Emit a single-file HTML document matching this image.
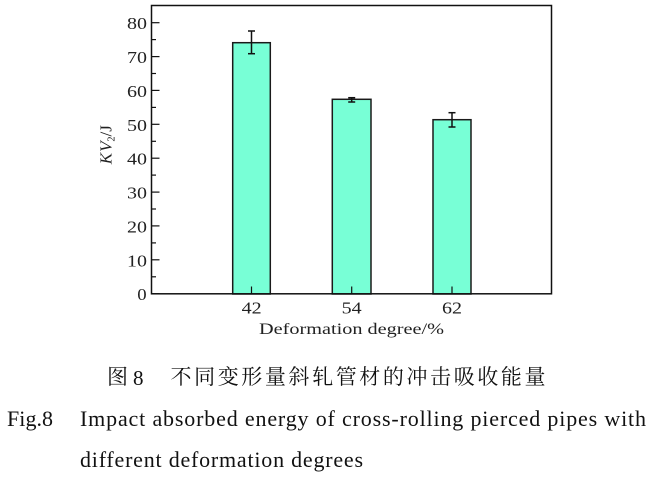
<!DOCTYPE html>
<html><head><meta charset="utf-8"><style>
html,body{margin:0;padding:0;background:#fff;}
svg{display:block;}
</style></head><body>
<svg width="654" height="477" viewBox="0 0 654 477" xmlns="http://www.w3.org/2000/svg">
<rect width="654" height="477" fill="#fff"/>
<!-- bars -->
<g fill="#78FFD6" stroke="#1a1a1a" stroke-width="1.5">
<rect x="232.7" y="42.7" width="37.6" height="251.3"/>
<rect x="332.3" y="99.3" width="38.7" height="194.7"/>
<rect x="433" y="119.7" width="38" height="174.3"/>
</g>
<!-- error bars -->
<g stroke="#111" stroke-width="1.5" fill="none">
<line x1="251.5" y1="31" x2="251.5" y2="53.7"/>
<line x1="248" y1="31" x2="255" y2="31"/>
<line x1="248" y1="53.7" x2="255" y2="53.7"/>
<line x1="351.7" y1="97.7" x2="351.7" y2="102"/>
<line x1="348.2" y1="97.7" x2="355.2" y2="97.7"/>
<line x1="348.2" y1="102" x2="355.2" y2="102"/>
<line x1="452" y1="112.7" x2="452" y2="127"/>
<line x1="448.5" y1="112.7" x2="455.5" y2="112.7"/>
<line x1="448.5" y1="127" x2="455.5" y2="127"/>
</g>
<!-- frame -->
<rect x="151.5" y="5.5" width="400" height="288.3" fill="none" stroke="#111" stroke-width="1.5"/>
<!-- y ticks -->
<g stroke="#111" stroke-width="1.2">
<line x1="151.5" y1="293.7" x2="159.5" y2="293.7"/>
<line x1="151.5" y1="259.8" x2="159.5" y2="259.8"/>
<line x1="151.5" y1="225.9" x2="159.5" y2="225.9"/>
<line x1="151.5" y1="192.1" x2="159.5" y2="192.1"/>
<line x1="151.5" y1="158.2" x2="159.5" y2="158.2"/>
<line x1="151.5" y1="124.3" x2="159.5" y2="124.3"/>
<line x1="151.5" y1="90.4" x2="159.5" y2="90.4"/>
<line x1="151.5" y1="56.6" x2="159.5" y2="56.6"/>
<line x1="151.5" y1="22.7" x2="159.5" y2="22.7"/>
<line x1="151.5" y1="276.8" x2="156" y2="276.8"/>
<line x1="151.5" y1="242.9" x2="156" y2="242.9"/>
<line x1="151.5" y1="209.0" x2="156" y2="209.0"/>
<line x1="151.5" y1="175.1" x2="156" y2="175.1"/>
<line x1="151.5" y1="141.3" x2="156" y2="141.3"/>
<line x1="151.5" y1="107.4" x2="156" y2="107.4"/>
<line x1="151.5" y1="73.5" x2="156" y2="73.5"/>
<line x1="151.5" y1="39.6" x2="156" y2="39.6"/>
<!-- x ticks -->
<line x1="251.5" y1="293.7" x2="251.5" y2="286.5"/>
<line x1="351.7" y1="293.7" x2="351.7" y2="286.5"/>
<line x1="452" y1="293.7" x2="452" y2="286.5"/>
</g>
<!-- y tick labels -->
<g font-family="'Liberation Serif', serif" font-size="17" fill="#222">
<text x="137.3" y="300.2" textLength="9.4" lengthAdjust="spacingAndGlyphs">0</text>
<text x="127" y="266.3" textLength="20" lengthAdjust="spacingAndGlyphs">10</text>
<text x="127" y="232.4" textLength="20" lengthAdjust="spacingAndGlyphs">20</text>
<text x="127" y="198.6" textLength="20" lengthAdjust="spacingAndGlyphs">30</text>
<text x="127" y="164.7" textLength="20" lengthAdjust="spacingAndGlyphs">40</text>
<text x="127" y="130.8" textLength="20" lengthAdjust="spacingAndGlyphs">50</text>
<text x="127" y="96.9" textLength="20" lengthAdjust="spacingAndGlyphs">60</text>
<text x="127" y="63.1" textLength="20" lengthAdjust="spacingAndGlyphs">70</text>
<text x="127" y="29.2" textLength="20" lengthAdjust="spacingAndGlyphs">80</text>
<!-- x tick labels -->
<text x="241.7" y="313.5" textLength="20" lengthAdjust="spacingAndGlyphs">42</text>
<text x="341.7" y="313.5" textLength="20" lengthAdjust="spacingAndGlyphs">54</text>
<text x="442" y="313.5" textLength="20" lengthAdjust="spacingAndGlyphs">62</text>
</g>
<!-- x axis title -->
<text x="259" y="334" font-family="'Liberation Serif', serif" font-size="16" fill="#222" textLength="185" lengthAdjust="spacingAndGlyphs">Deformation degree/%</text>
<!-- y axis title -->
<g transform="translate(111.5,144.7) rotate(-90)" font-family="'Liberation Serif', serif" font-size="17" fill="#222">
<text x="0" y="0" text-anchor="middle"><tspan font-style="italic">K</tspan><tspan font-style="italic" dx="1">V</tspan><tspan font-size="10" dy="3">2</tspan><tspan dy="-3">/J</tspan></text>
</g>
<!-- captions -->
<g fill="#111">
<text x="107" y="384" font-family="'Liberation Serif','Noto Serif CJK SC',serif" font-size="21">图</text>
<text x="133" y="385" font-family="'Liberation Serif',serif" font-size="21">8</text>
<text x="170.5" y="384" font-family="'Liberation Serif','Noto Serif CJK SC',serif" font-size="21" textLength="375" lengthAdjust="spacing">不同变形量斜轧管材的冲击吸收能量</text>
<text x="7" y="426" font-family="'Liberation Serif',serif" font-size="22" textLength="46" lengthAdjust="spacing">Fig.8</text>
<text x="80" y="426" font-family="'Liberation Serif',serif" font-size="22" textLength="566" lengthAdjust="spacing">Impact absorbed energy of cross-rolling pierced pipes with</text>
<text x="80" y="467" font-family="'Liberation Serif',serif" font-size="22" textLength="283" lengthAdjust="spacing">different deformation degrees</text>
</g>
</svg>
</body></html>
